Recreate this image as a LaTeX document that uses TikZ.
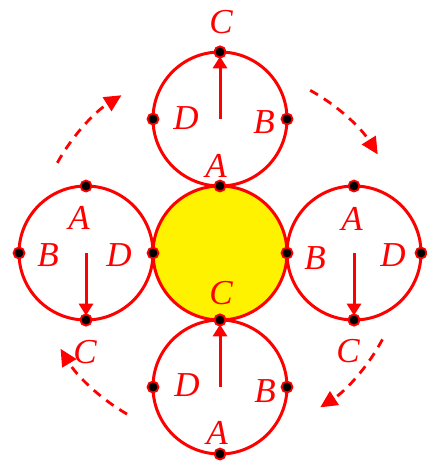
\documentclass[tikz,border=0pt]{standalone}
\usepackage{fontspec}
\setmainfont{Liberation Serif}
\usetikzlibrary{arrows.meta,calc}
\begin{document}
\begin{tikzpicture}[x=1pt,y=-1pt,
  ring/.style={circle,draw=red,line width=3pt,minimum size=134pt,inner sep=0pt,outer sep=0pt},
  pin/.style={circle,fill=black,draw=red,line width=1.8pt,minimum size=11pt,inner sep=0pt},
  lab/.style={text=red,font=\fontsize{35}{35}\selectfont\itshape,inner sep=0pt},
  vec/.style={draw=red,line width=3pt,-{Triangle[length=12pt,width=14pt]},shorten >=-2pt},
  turn/.style={draw=red,line width=2.8pt,dash pattern=on 9pt off 7pt,-{Triangle[length=17pt,width=16pt]}}]
\useasboundingbox (0,0) rectangle (427,461);
% circles
\node[ring,fill=yellow] (M) at (220,253) {};
\node[ring] (T) at (220,119) {};
\node[ring] (S) at (220,387) {};
\node[ring] (L) at (86,253) {};
\node[ring] (R) at (354,253) {};
% dots
\node[pin] (tn) at (T.north) {};
\node[pin] (tw) at (T.west) {};
\node[pin] (te) at (T.east) {};
\node[pin] (mn) at (M.north) {};
\node[pin] (mw) at (M.west) {};
\node[pin] (me) at (M.east) {};
\node[pin] (ms) at (M.south) {};
\node[pin] (ln) at (L.north) {};
\node[pin] (lw) at (L.west) {};
\node[pin] (ls) at (L.south) {};
\node[pin] (rn) at (R.north) {};
\node[pin] (re) at (R.east) {};
\node[pin] (rs) at (R.south) {};
\node[pin] (sw) at (S.west) {};
\node[pin] (se) at (S.east) {};
\node[pin] (ss) at (S.south) {};
% arrows inside circles
\draw[vec] (T.center) -- (tn);
\draw[vec] (S.center) -- (ms);
\draw[vec] (L.center) -- (ls);
\draw[vec] (R.center) -- (rs);
% redraw dots on top of arrow tips
\node[pin] at (tn) {};
\node[pin] at (ms) {};
\node[pin] at (ls) {};
\node[pin] at (rs) {};
% labels
\node[lab] (t1) at (221,22) {C};
\node[lab] (t2) at (186,118) {D};
\node[lab] (t3) at (264,122) {B};
\node[lab] (t4) at (216,166) {A};
\node[lab] (l1) at (79,218) {A};
\node[lab] (l2) at (48,255) {B};
\node[lab] (l3) at (119,255) {D};
\node[lab] (l4) at (85,352) {C};
\node[lab] (r1) at (352,219) {A};
\node[lab] (r2) at (315,258) {B};
\node[lab] (r3) at (393,255) {D};
\node[lab] (r4) at (348,351) {C};
\node[lab] (s1) at (221,293) {C};
\node[lab] (s2) at (187,385) {D};
\node[lab] (s3) at (265,391) {B};
\node[lab] (s4) at (217,433) {A};
% rotation arrows
\draw[turn] ($(M)+(-151:186)$) arc[start angle=-151,end angle=-122,radius=186];
\draw[turn] ($(M)+(-61:186)$) arc[start angle=-61,end angle=-32,radius=186];
\draw[turn] ($(M)+(28:184)$) arc[start angle=28,end angle=57,radius=184];
\draw[turn] ($(M)+(120:186)$) arc[start angle=120,end angle=149,radius=186];
\end{tikzpicture}
\end{document}
